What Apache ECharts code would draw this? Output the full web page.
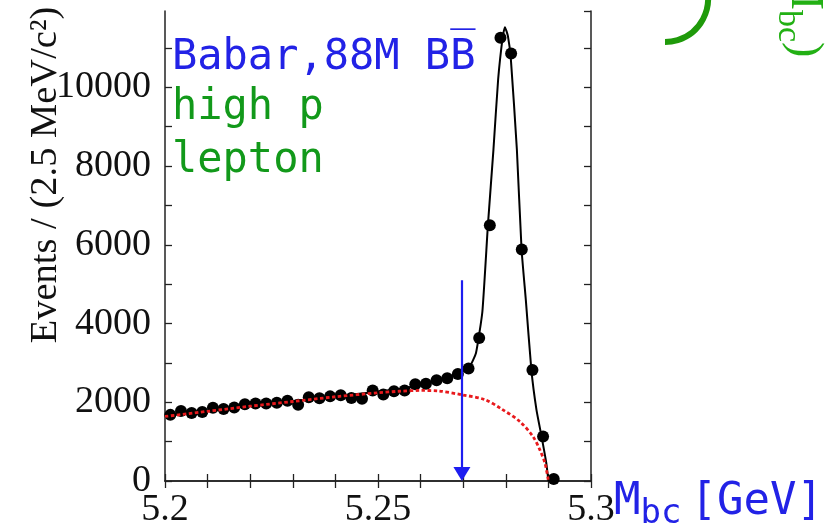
<!DOCTYPE html>
<html><head><meta charset="utf-8">
<script src="https://cdn.jsdelivr.net/npm/echarts@6/dist/echarts.min.js"></script>
<style>html,body{margin:0;padding:0;background:#fff}#c{width:825px;height:531px}</style>
</head><body><div id="c"></div>
<script>
// ---- data ----
const binCenters = [5.20125, 5.20375, 5.20625, 5.20875, 5.21125, 5.21375, 5.21625, 5.21875,
  5.22125, 5.22375, 5.22625, 5.22875, 5.23125, 5.23375, 5.23625, 5.23875, 5.24125, 5.24375,
  5.24625, 5.24875, 5.25125, 5.25375, 5.25625, 5.25875, 5.26125, 5.26375, 5.26625, 5.26875,
  5.27125, 5.27375, 5.27625, 5.27875, 5.28125, 5.28375, 5.28625, 5.28875, 5.29125];
const events = [1680, 1780, 1730, 1750, 1860, 1830, 1870, 1950,
  1970, 1970, 1990, 2040, 1940, 2130, 2100, 2150, 2180, 2110,
  2090, 2300, 2200, 2280, 2300, 2460, 2470, 2560, 2610, 2720,
  2860, 3630, 6500, 11260, 10860, 5880, 2820, 1130, 50];

const fitX = [5.200, 5.210, 5.220, 5.230, 5.240, 5.250, 5.255, 5.260, 5.265, 5.268, 5.270,
  5.2715, 5.273, 5.2745, 5.2758, 5.2771, 5.2782, 5.2793, 5.2798, 5.2805, 5.2812, 5.2826,
  5.2837, 5.2847, 5.2860, 5.2872, 5.2884, 5.2895, 5.2900];
const fitY = [1650, 1780, 1910, 2030, 2150, 2270, 2340, 2430, 2600, 2700, 2800,
  2900, 3250, 4300, 6500, 8420, 10200, 11300, 11530, 11300, 10700, 8420,
  5880, 4600, 2824, 1807, 1127, 458, 0];

const bkgX = [5.200, 5.210, 5.220, 5.230, 5.240, 5.250, 5.255, 5.260, 5.264, 5.2697,
  5.275, 5.279, 5.2833, 5.2864, 5.288, 5.2892, 5.2900];
const bkgY = [1640, 1770, 1900, 2020, 2140, 2240, 2280, 2300, 2290, 2190,
  2070, 1830, 1510, 1127, 789, 450, 0];

const arrowX = 5.2697, arrowTop = 5100, arrowEnd = 180;
const xTickLabels = ['5.2', '5.25', '5.3'];
const yTickLabels = ['0', '2000', '4000', '6000', '8000', '10000'];

// ---- chart ----
const chart = echarts.init(document.getElementById('c'), null, {renderer: 'canvas'});
const zip = (a, b) => a.map((v, i) => [v, b[i]]);
const serif = '"Liberation Serif", "Times New Roman", serif';
const mono = '"DejaVu Sans Mono", monospace';
const BLUE = '#2222e6', GREEN = '#12991a';
const frame = {show: true, lineStyle: {color: '#222', width: 1.5}};
const tick = {show: true, inside: true, length: 7, lineStyle: {color: '#222', width: 1.3}};

function xLabel(v) {
  const t = xTickLabels.find(s => Math.abs(parseFloat(s) - v) < 1e-6);
  return t === undefined ? '' : t;
}
function yLabel(v) {
  const t = yTickLabels.find(s => Math.abs(parseFloat(s) - v) < 1e-6);
  return t === undefined ? '' : t;
}

chart.setOption({
  animation: false,
  backgroundColor: '#fff',
  grid: {left: 165, right: 234, top: 11, bottom: 50, containLabel: false, outerBoundsMode: 'none'},
  xAxis: [{
    type: 'value', min: 5.2, max: 5.3, interval: 0.01,
    axisLine: frame, axisTick: tick, splitLine: {show: false},
    axisLabel: {formatter: xLabel, fontFamily: serif, fontSize: 38, color: '#111', margin: 10,
      showMinLabel: true, showMaxLabel: true},
    name: '{m|M}{s|bc}{g|[GeV]}', nameLocation: 'end', nameGap: 23, nameMoveOverlap: false,
    nameTextStyle: {verticalAlign: 'top', align: 'left', rich: {
      m: {fontFamily: mono, fontSize: 44, color: BLUE, verticalAlign: 'bottom', padding: [0, 0, 6, 0]},
      s: {fontFamily: mono, fontSize: 34, color: BLUE, verticalAlign: 'bottom'},
      g: {fontFamily: mono, fontSize: 44, color: BLUE, verticalAlign: 'bottom', padding: [0, 0, 6, 9]}
    }}
  }, {
    type: 'value', position: 'top', min: 5.2, max: 5.3, interval: 0.01,
    axisLine: frame, axisTick: tick, axisLabel: {show: false}, splitLine: {show: false}
  }],
  yAxis: [{
    type: 'value', min: 0, max: 11940, interval: 1000,
    axisLine: frame, axisTick: tick, splitLine: {show: false},
    axisLabel: {formatter: yLabel, fontFamily: serif, fontSize: 38, color: '#111', margin: 14,
      showMaxLabel: false},
    name: 'Events / (2.5 MeV/c\u00B2)', nameLocation: 'middle', nameRotate: 90, nameGap: 100,
    nameMoveOverlap: false,
    nameTextStyle: {fontFamily: serif, fontSize: 38.5, color: '#111', padding: [0, 0, 0, 142]}
  }, {
    type: 'value', position: 'right', min: 0, max: 11940, interval: 1000,
    axisLine: frame, axisTick: tick, axisLabel: {show: false}, splitLine: {show: false}
  }],
  series: [{
    type: 'scatter', data: zip(binCenters, events), symbolSize: 12,
    itemStyle: {color: '#000', opacity: 1}, z: 3
  }, {
    type: 'line', data: zip(fitX, fitY), showSymbol: false, smooth: 0.15,
    lineStyle: {color: '#000', width: 2}, z: 4
  }, {
    type: 'line', data: zip(bkgX, bkgY), showSymbol: false, smooth: 0.3,
    lineStyle: {color: '#e8191c', width: 2.8, type: [3.5, 2.5]}, z: 5
  }, {
    type: 'line', data: [], z: 6,
    markLine: {
      silent: true, animation: false, symbol: ['none', 'triangle'], symbolSize: [17, 14],
      label: {show: false},
      lineStyle: {color: '#1d1df0', width: 2.2, type: 'solid'},
      emphasis: {disabled: true},
      data: [[{coord: [arrowX, arrowTop]}, {coord: [arrowX, arrowEnd]}]]
    }
  }],
  graphic: [
    {type: 'text', x: 172, y: 58, z: 10, style: {text: 'Babar,88M B\u0042\u0305', fill: BLUE,
      font: '42px ' + mono, align: 'left', verticalAlign: 'middle'}},
    {type: 'text', x: 172, y: 108, z: 10, style: {text: 'high p', fill: GREEN,
      font: '42px ' + mono, align: 'left', verticalAlign: 'middle'}},
    {type: 'text', x: 172, y: 161, z: 10, style: {text: 'lepton', fill: GREEN,
      font: '42px ' + mono, align: 'left', verticalAlign: 'middle'}},
    {type: 'arc', z: 10, shape: {cx: 665, cy: -1, r: 43, startAngle: -0.3, endAngle: Math.PI / 2},
      style: {stroke: '#1f9a0a', lineWidth: 6, fill: null}},
    {type: 'text', x: 771, y: -31, rotation: -Math.PI / 2, z: 10, style: {
      text: '{m|M}{s|bc}{m|)}', align: 'left', verticalAlign: 'bottom',
      rich: {
        m: {fontFamily: serif, fontSize: 46, fill: '#22b014', verticalAlign: 'bottom', padding: [0, 0, 10, 0]},
        s: {fontFamily: serif, fontSize: 34, fill: '#22b014', verticalAlign: 'bottom'}
      }}}
  ]
});
</script></body></html>
